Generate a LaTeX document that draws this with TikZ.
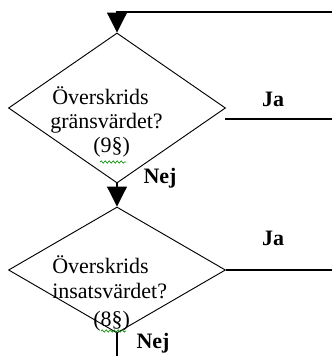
\documentclass[tikz,border=0pt]{standalone}
\usepackage{fontspec}
\setmainfont{Liberation Serif}
\usetikzlibrary{shapes.geometric,arrows.meta,decorations.pathmorphing}
\tikzset{
  decision/.style={draw, shape=diamond, inner sep=0pt, line width=0.7pt},
  flow/.style={draw, line width=0.8pt},
  flowarrow/.style={flow, -{Triangle[width=15pt,length=15pt]}},
  qtext/.style={anchor=base west, inner sep=0pt, font=\fontsize{16.5}{18}\selectfont},
  answer/.style={inner sep=0pt, font=\fontsize{16.5}{18}\selectfont\bfseries},
  squiggle/.style={draw=green!55!black, line width=0.5pt,
    decorate, decoration={snake, amplitude=0.8pt, segment length=3pt}}
}
\begin{document}
\begin{tikzpicture}[x=0.75pt,y=-0.75pt]
  \useasboundingbox (0,0) rectangle (332,356);

  % decision diamonds
  \node[decision, minimum width=217*0.75pt, minimum height=150*0.75pt] (d1) at (117,108) {};
  \node[decision, minimum width=217*0.75pt, minimum height=126*0.75pt] (d2) at (117,270) {};

  % question texts
  \node[qtext] (q1a) at (52,104) {Överskrids};
  \node[qtext] (q1b) at (50,128) {gränsvärdet?};
  \node[qtext] (q1c) at (93,152) {(9§)};
  \node[qtext] (q2a) at (52,273) {Överskrids};
  \node[qtext] (q2b) at (52,298) {insatsvärdet?};
  \node[qtext] (q2c) at (93,326) {(8§)};

  % spell-check underlines
  \coordinate (s1a) at (100,162);
  \coordinate (s1b) at (126,162);
  \coordinate (s2a) at (101,331);
  \coordinate (s2b) at (126,331);
  \path[squiggle] (s1a) -- (s1b);
  \path[squiggle] (s2a) -- (s2b);

  % answer labels
  \node[answer] (ja1) at (273,99) {Ja};
  \node[answer] (ja2) at (273,238) {Ja};
  \node[answer] (nej1) at (160,178) {Nej};
  \node[answer] (nej2) at (153,343) {Nej};

  % loop back into the first decision
  \coordinate (loopR) at (332,12);
  \coordinate (loopL) at (117,12);
  \draw[flowarrow] (loopR) -- (loopL) -- (d1.north);

  % "Nej" from the first to the second decision
  \draw[flowarrow] (d1.south) -- (d2.north);

  % "Ja" exits
  \coordinate (ja1s) at (225,119);
  \coordinate (ja1e) at (332,119);
  \draw[flow] (ja1s) -- (ja1e);
  \coordinate (ja2e) at (332,270);
  \draw[flow] (d2.east) -- (ja2e);

  % "Nej" exit of the second decision
  \coordinate (nej2e) at (117,356);
  \draw[flow] (d2.south) -- (nej2e);
\end{tikzpicture}
\end{document}
